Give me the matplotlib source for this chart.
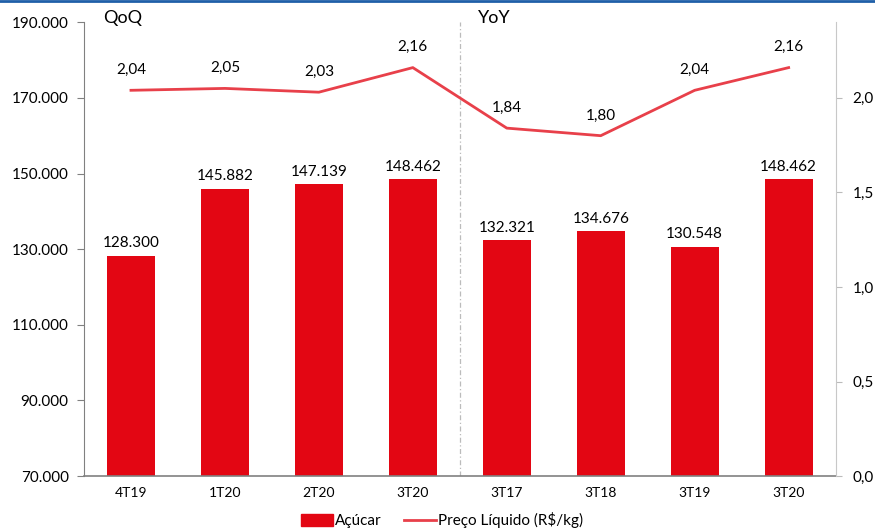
import matplotlib
matplotlib.use("Agg")
import matplotlib.pyplot as plt
from matplotlib.lines import Line2D
from matplotlib.patches import Patch

categories = ["4T19", "1T20", "2T20", "3T20", "3T17", "3T18", "3T19", "3T20"]
acucar = [128300, 145882, 147139, 148462, 132321, 134676, 130548, 148462]
preco = [2.04, 2.05, 2.03, 2.16, 1.84, 1.80, 2.04, 2.16]
left_ticks = [70000, 90000, 110000, 130000, 150000, 170000, 190000]
right_ticks = [0.0, 0.5, 1.0, 1.5, 2.0]

plt.rcParams['font.family'] = ['Lato', 'DejaVu Sans']

bar_color = "#E30613"
line_color = "#E8404A"

def fmt_int(v):
    return f"{v:,.0f}".replace(",", ".")

def fmt_dec(v, d=2):
    return f"{v:.{d}f}".replace(".", ",")

fig = plt.figure(figsize=(8.75, 5.29), dpi=100)
ax = fig.add_axes([0.096, 0.1, 0.859, 0.858])
x = list(range(len(categories)))
ax.bar(x, [v - 70000 for v in acucar], bottom=70000, width=0.51, color=bar_color, zorder=2)
ax.set_ylim(70000, 190000)
ax.set_xlim(-0.5, len(categories) - 0.5)
ax.set_yticks(left_ticks)
ax.set_yticklabels([fmt_int(t) for t in left_ticks], fontsize=11)
ax.set_xticks(x)
ax.set_xticklabels(categories, fontsize=10)
ax.tick_params(axis='x', length=0, pad=8)
ax.tick_params(axis='y', length=5, color="#808080", pad=6)
for s in ["top", "right"]:
    ax.spines[s].set_visible(False)
ax.spines["left"].set_color("#808080")
ax.spines["bottom"].set_color("#808080")
ax.spines["bottom"].set_linewidth(1.2)
for xi, v in zip(x, acucar):
    ax.text(xi, v + 1500, fmt_int(v), ha="center", va="bottom", fontsize=11)

ax.axvline(3.5, color="#BBBBBB", linestyle=(0, (4, 2, 1, 2)), linewidth=0.9, zorder=1)

ax2 = ax.twinx()
ax2.plot(x, preco, color=line_color, linewidth=2, zorder=3)
ax2.set_ylim(0, 2.4)
ax2.set_yticks(right_ticks)
ax2.set_yticklabels([fmt_dec(t, 1) for t in right_ticks], fontsize=11)
ax2.tick_params(axis='y', length=4, color="#BBBBBB", pad=8)
for s in ["top", "left", "bottom"]:
    ax2.spines[s].set_visible(False)
ax2.spines["right"].set_color("#C8C8C8")
ax2.spines["right"].set_linestyle((0, (3, 1)))
for xi, v in zip(x, preco):
    ax2.text(xi, v + 0.07, fmt_dec(v), ha="center", va="bottom", fontsize=11)

fig.text(103 / 875, 1 - 18 / 529, "QoQ", fontsize=13, ha="left", va="center")
fig.text(478 / 875, 1 - 18 / 529, "YoY", fontsize=13, ha="left", va="center")

fig.add_artist(Line2D([0, 1], [0.998, 0.998], color="#1F5FA8", linewidth=2, transform=fig.transFigure))

handles = [Patch(color=bar_color, label="Açúcar"),
           Line2D([0], [0], color=line_color, linewidth=2, label="Preço Líquido (R$/kg)")]
fig.legend(handles=handles, loc="lower center", bbox_to_anchor=(0.505, -0.025), ncol=2,
           frameon=False, fontsize=11, handlelength=2.1, handleheight=0.8, columnspacing=1.5, handletextpad=0.1)

fig.savefig("out.png", dpi=100)
